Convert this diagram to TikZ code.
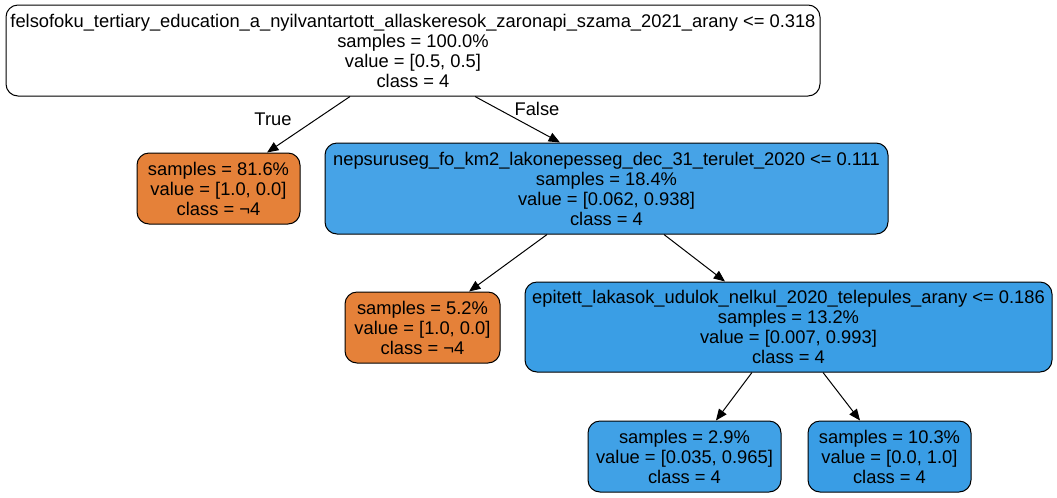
\documentclass[tikz,border=0pt]{standalone}
\usepackage{fontspec}
\setmainfont{Liberation Sans}
\usetikzlibrary{arrows.meta}
\definecolor{orangeN}{RGB}{229,129,57}
\definecolor{blueA}{RGB}{70,163,231}
\definecolor{blueB}{RGB}{58,158,229}
\definecolor{blueC}{RGB}{64,161,230}
\definecolor{blueD}{RGB}{57,157,229}
\begin{document}
\begin{tikzpicture}[x=0.75pt,y=-0.75pt,
  treenode/.style={draw=black, line width=0.75pt, rounded corners=9pt, align=center, inner sep=0pt,
    font=\fontsize{13.75pt}{15pt}\selectfont},
  edge/.style={draw=black, line width=0.75pt, -{Triangle[length=8.5pt,width=7pt]}},
  elabel/.style={font=\fontsize{13.75pt}{15pt}\selectfont, inner sep=0pt}]
\useasboundingbox (0,0) rectangle (1057,497);
\node[treenode, fill=white, minimum width=610.5pt, minimum height=68.25pt] (root) at (413,50.5)
  {felsofoku\_tertiary\_education\_a\_nyilvantartott\_allaskeresok\_zaronapi\_szama\_2021\_arany <= 0.318\\samples = 100.0\%\\value = [0.5, 0.5]\\class = 4};
\node[treenode, fill=orangeN, minimum width=122.25pt, minimum height=53.25pt] (n1) at (218.5,188.5)
  {samples = 81.6\%\\value = [1.0, 0.0]\\class = ¬4};
\node[treenode, fill=blueA, minimum width=422.25pt, minimum height=68.25pt] (n2) at (606.5,188.5)
  {nepsuruseg\_fo\_km2\_lakonepesseg\_dec\_31\_terulet\_2020 <= 0.111\\samples = 18.4\%\\value = [0.062, 0.938]\\class = 4};
\node[treenode, fill=orangeN, minimum width=116.25pt, minimum height=53.25pt] (n3) at (422.5,327.5)
  {samples = 5.2\%\\value = [1.0, 0.0]\\class = ¬4};
\node[treenode, fill=blueB, minimum width=395.25pt, minimum height=67.5pt] (n4) at (788.5,327)
  {epitett\_lakasok\_udulok\_nelkul\_2020\_telepules\_arany <= 0.186\\samples = 13.2\%\\value = [0.007, 0.993]\\class = 4};
\node[treenode, fill=blueC, minimum width=144.75pt, minimum height=53.25pt] (n5) at (684.5,456.5)
  {samples = 2.9\%\\value = [0.035, 0.965]\\class = 4};
\node[treenode, fill=blueD, minimum width=122.25pt, minimum height=53.25pt] (n6) at (889.5,456.5)
  {samples = 10.3\%\\value = [0.0, 1.0]\\class = 4};
\draw[edge] ([xshift=-47.25pt]root.south) -- ([xshift=36.4pt]n1.north);
\draw[edge] ([xshift=46.5pt]root.south) -- ([xshift=-34.9pt]n2.north);
\draw[edge] ([xshift=-44.6pt]n2.south) -- ([xshift=34.9pt]n3.north);
\draw[edge] ([xshift=43.1pt]n2.south) -- ([xshift=-47.6pt]n4.north);
\draw[edge] ([xshift=-27.4pt]n4.south) -- ([xshift=23.6pt]n5.north);
\draw[edge] ([xshift=25.9pt]n4.south) -- ([xshift=-22.1pt]n6.north);
\node[elabel] (lt) at (273,119) {True};
\node[elabel] (lf) at (537,109) {False};
\end{tikzpicture}
\end{document}
